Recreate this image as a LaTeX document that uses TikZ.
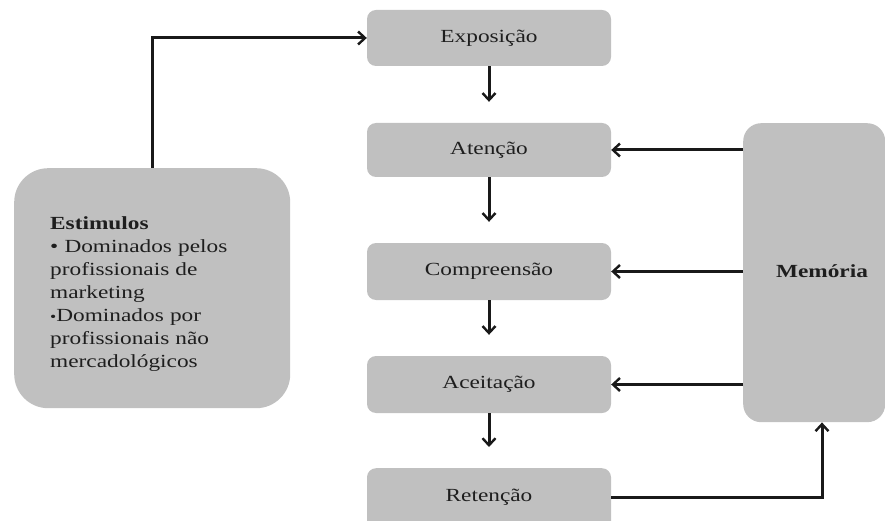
\documentclass[tikz,border=0pt]{standalone}
\usepackage{fontspec}
\setmainfont{Liberation Serif}[FakeStretch=1.26]
\usetikzlibrary{arrows.meta}
\begin{document}
\begin{tikzpicture}[x=1pt,y=-1pt,
  box/.style={fill=boxgray, rounded corners=9pt, inner sep=0pt, text=txt,
    font=\fontsize{18.5}{23}\selectfont},
  conn/.style={draw=black!90, line width=3pt,
    -{Straight Barb[length=7pt,width=13pt,line width=2.4pt]}},
  thinconn/.style={conn, line width=2.2pt},
]
\definecolor{boxgray}{HTML}{C0C0C0}
\definecolor{txt}{HTML}{1E1E1E}
\useasboundingbox (0,0) rectangle (885,521);
\clip (0,0) rectangle (885,521);

% stage boxes
\node[box, minimum width=244pt, minimum height=56pt] (exp) at (489,38) {Exposição};
\node[box, minimum width=244pt, minimum height=54pt] (ate) at (489,150) {Atenção};
\node[box, minimum width=244pt, minimum height=57pt] (comp) at (489,271.5) {Compreensão};
\node[box, minimum width=244pt, minimum height=57pt] (acei) at (489,384.5) {Aceitação};
\node[box, minimum width=244pt, minimum height=64pt, anchor=north] (ret) at (489,468) {};
\node[text=txt, font=\fontsize{18.5}{23}\selectfont] (rettxt) at (489,497) {Retenção};

% memory block
\node[box, rounded corners=18pt, minimum width=142pt, minimum height=299pt, anchor=north west]
  (mem) at (743,123) {};
\node[text=txt, font=\fontsize{18.5}{23}\selectfont\bfseries] (memtxt) at (822,271) {Memória};

% stimuli block
\node[box, rounded corners=34pt, minimum width=276pt, minimum height=240pt,
  anchor=north west] (est) at (14,168) {};
\node[text=txt, font=\fontsize{18.5}{23}\selectfont, text width=230pt, align=left,
  anchor=north west, inner sep=0pt] (esttxt) at (50,216)
  {\textbf{Estimulos}\\
   • Dominados pelos\\
   profissionais de\\
   marketing\\
   {\fontsize{14}{23}\selectfont•}Dominados por\\
   profissionais não\\
   mercadológicos};

% connectors
\draw[conn] (est.north -| 152,0) |- (exp.west);
\draw[conn, shorten >=21pt] (exp) -- (ate);
\draw[conn, shorten >=21pt] (ate) -- (comp);
\draw[conn, shorten >=21pt] (comp) -- (acei);
\draw[conn, shorten >=21pt] (acei.south) -- (acei.south |- ret.north);
\draw[conn] (mem.west |- ate) -- (ate.east);
\draw[thinconn] (mem.west |- comp) -- (comp.east);
\draw[conn] (mem.west |- acei) -- (acei.east);
\draw[conn] (ret.east |- rettxt) -| (mem.south -| 822,0);
\end{tikzpicture}
\end{document}
